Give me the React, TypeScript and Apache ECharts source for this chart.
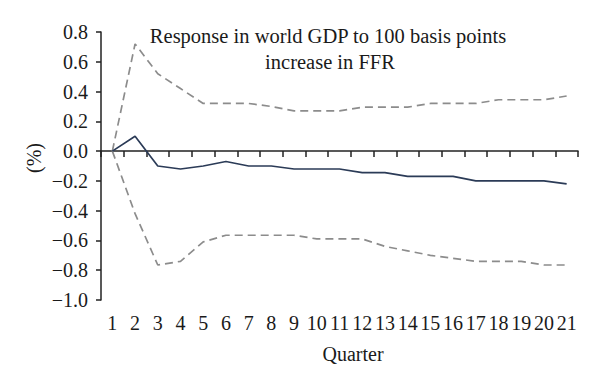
import React, { useEffect, useRef } from "react";
import * as echarts from "echarts";

const quarters = ["1","2","3","4","5","6","7","8","9","10","11","12","13","14","15","16","17","18","19","20","21"];
const response = [0.0, 0.1, -0.1, -0.12, -0.1, -0.07, -0.1, -0.1, -0.12, -0.12, -0.12, -0.145, -0.145, -0.17, -0.17, -0.17, -0.2, -0.2, -0.2, -0.2, -0.22];
const upperBand = [0.0, 0.72, 0.52, 0.42, 0.32, 0.32, 0.32, 0.3, 0.27, 0.27, 0.27, 0.295, 0.295, 0.295, 0.32, 0.32, 0.32, 0.345, 0.345, 0.345, 0.37];
const lowerBand = [0.0, -0.42, -0.765, -0.74, -0.61, -0.565, -0.565, -0.565, -0.565, -0.59, -0.59, -0.59, -0.64, -0.67, -0.7, -0.72, -0.74, -0.74, -0.74, -0.765, -0.765];
const titleLines = ["Response in world GDP to 100 basis points", "increase in FFR"];

const FONT = "Liberation Serif";

export default function App() {
  const ref = useRef<HTMLDivElement>(null);
  useEffect(() => {
    if (!ref.current) return;
    const chart = echarts.init(ref.current, null, { renderer: "svg" });
    chart.setOption({
      animation: false,
      backgroundColor: "#ffffff",
      grid: { left: 101, right: 22, top: 32, bottom: 88, containLabel: false },
      xAxis: [
        {
          type: "category",
          data: quarters,
          boundaryGap: true,
          axisLine: { onZero: true, lineStyle: { color: "#222", width: 1.5 } },
          axisTick: { show: true, length: 6, inside: false, interval: 0, lineStyle: { color: "#222", width: 1.5 } },
          axisLabel: { show: false },
        },
        {
          type: "category",
          data: quarters,
          position: "bottom",
          boundaryGap: true,
          axisLine: { show: false, onZero: false },
          axisTick: { show: false },
          axisLabel: { show: true, interval: 0, margin: 13, fontFamily: FONT, fontSize: 20, color: "#1a1a1a" },
        },
      ],
      yAxis: {
        type: "value",
        min: -1.0,
        max: 0.8,
        interval: 0.2,
        splitLine: { show: false },
        axisLine: { show: true, lineStyle: { color: "#222", width: 1.5 } },
        axisTick: { show: true, length: 5, lineStyle: { color: "#222", width: 1.5 } },
        axisLabel: {
          margin: 13,
          fontFamily: FONT,
          fontSize: 20,
          color: "#1a1a1a",
          formatter: (v: number) => v.toFixed(1).replace("-", "\u2212"),
        },
      },
      graphic: [
        {
          type: "text",
          x: 328,
          y: 36,
          style: { text: titleLines[0], fontFamily: FONT, fontSize: 20.5, fill: "#1a1a1a", align: "center", verticalAlign: "middle" },
        },
        {
          type: "text",
          x: 330,
          y: 62,
          style: { text: titleLines[1], fontFamily: FONT, fontSize: 20.5, fill: "#1a1a1a", align: "center", verticalAlign: "middle" },
        },
        {
          type: "text",
          x: 34,
          y: 158,
          rotation: Math.PI / 2,
          style: { text: "(%)", fontFamily: FONT, fontSize: 20, fill: "#1a1a1a", align: "center", verticalAlign: "middle" },
        },
        {
          type: "text",
          x: 353,
          y: 354,
          style: { text: "Quarter", fontFamily: FONT, fontSize: 20, fill: "#1a1a1a", align: "center", verticalAlign: "middle" },
        },
      ],
      series: [
        {
          type: "line",
          data: upperBand,
          symbol: "none",
          lineStyle: { color: "#8c8c8c", width: 1.7, type: [8, 5] },
        },
        {
          type: "line",
          data: lowerBand,
          symbol: "none",
          lineStyle: { color: "#8c8c8c", width: 1.7, type: [8, 5] },
        },
        {
          type: "line",
          data: response,
          symbol: "none",
          lineStyle: { color: "#2b3b57", width: 1.7 },
        },
      ],
    });
    return () => chart.dispose();
  }, []);
  return <div ref={ref} style={{ width: 600, height: 388, position: "fixed", left: 0, top: 0 }} />;
}
